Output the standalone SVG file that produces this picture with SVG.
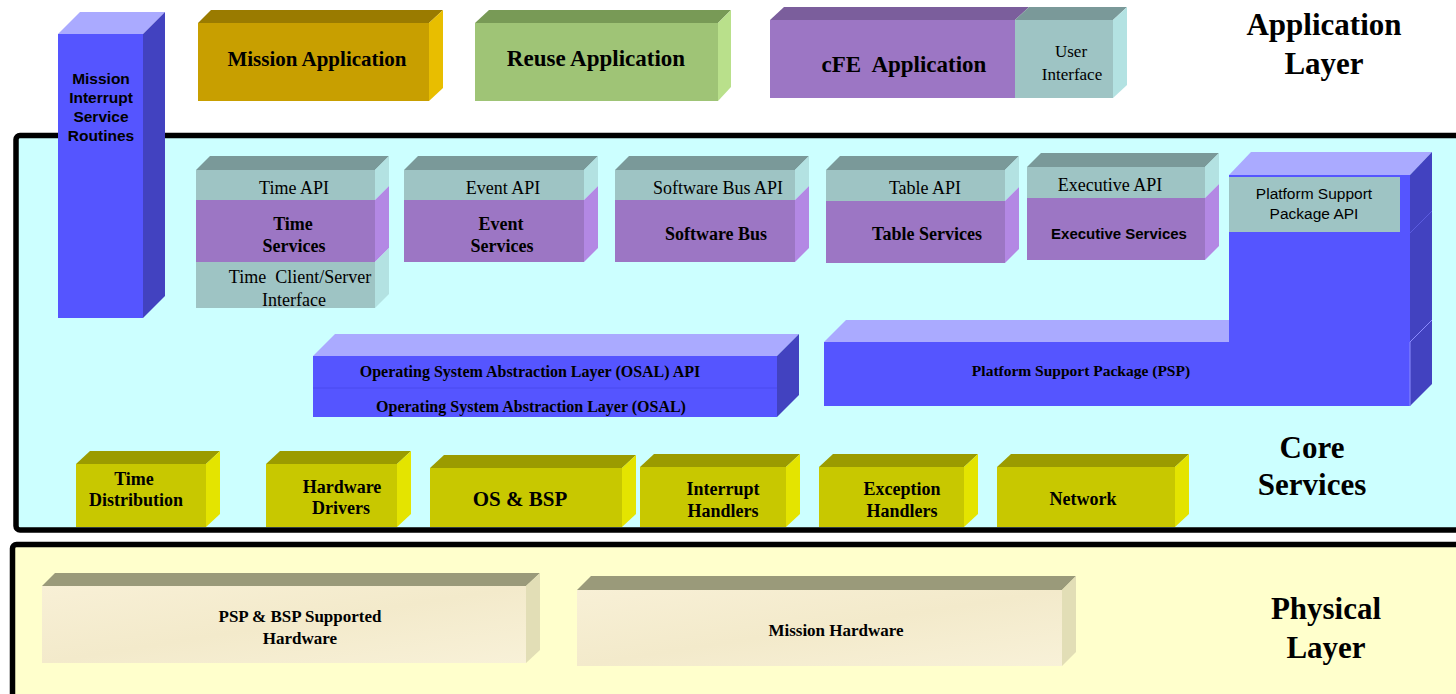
<svg xmlns="http://www.w3.org/2000/svg" width="1456" height="694" viewBox="0 0 1456 694">
<style>
.bf{fill:#5555FF}.bt{fill:#AAAAFF}.bs{fill:#4242C0}
.tf{fill:#9EC4C4}.tt{fill:#7A9999}.ts{fill:#B3E2E2}
.pf{fill:#9C76C4}.pt{fill:#7B5E9C}.ps{fill:#B388E4}
.gf{fill:#C89F00}.gt{fill:#9A7B00}.gs{fill:#E8BE00}
.rf{fill:#9FC476}.rt{fill:#789A56}.rs{fill:#B9E08B}
.yf{fill:#C8C800}.yt{fill:#9B9B00}.ys{fill:#E4E400}
.hf{fill:url(#tex)}.ht{fill:#9A9A7A}.hs{fill:#E2DEB6}
text{fill:#000}
.sb{font-family:"Liberation Serif","Times New Roman",serif;font-weight:bold;text-anchor:middle}
.sn{font-family:"Liberation Serif","Times New Roman",serif;text-anchor:middle}
.ab{font-family:"Liberation Sans",Arial,sans-serif;font-weight:bold;text-anchor:middle}
.an{font-family:"Liberation Sans",Arial,sans-serif;text-anchor:middle}
.s18{font-size:18px}
</style>
<defs>
<linearGradient id="tex" x1="0" y1="0" x2="1" y2="1">
<stop offset="0" stop-color="#F8F0D6"/>
<stop offset="0.5" stop-color="#F3EACB"/>
<stop offset="1" stop-color="#F8F1D8"/>
</linearGradient>
</defs>
<rect x="0" y="0" width="1456" height="694" fill="#FFFFFF"/>

<g id="core-frame">
<rect x="16" y="135.5" width="1460" height="394.5" rx="4" fill="#CCFFFF" stroke="#000" stroke-width="5.5"/>
</g>
<g id="physical-frame">
<rect x="12.5" y="544.5" width="1460" height="200" rx="4" fill="#FFFFCC" stroke="#000" stroke-width="5.5"/>
</g>

<g id="connectors"></g>

<g id="layer-labels">
<text class="sb" x="1324" y="35" font-size="31">Application</text>
<text class="sb" x="1324" y="74" font-size="31">Layer</text>
<text class="sb" x="1312" y="458" font-size="31">Core</text>
<text class="sb" x="1312" y="495" font-size="31">Services</text>
<text class="sb" x="1326" y="619" font-size="31">Physical</text>
<text class="sb" x="1326" y="658" font-size="31">Layer</text>
</g>

<g id="mission-isr">
<rect class="bf" x="58" y="34" width="85" height="284"/>
<polygon class="bt" points="58,34 80,12 165,12 143,34"/>
<polygon class="bs" points="143,34 165,12 165,296 143,318"/>
<text class="ab" x="101" y="84" font-size="15.5">Mission</text>
<text class="ab" x="101" y="103" font-size="15.5">Interrupt</text>
<text class="ab" x="101" y="122" font-size="15.5">Service</text>
<text class="ab" x="101" y="141" font-size="15.5">Routines</text>
</g>

<g id="mission-application">
<rect class="gf" x="198" y="23" width="231" height="78"/>
<polygon class="gt" points="198,23 211,10 443,10 429,23"/>
<polygon class="gs" points="429,23 443,10 443,88 429,101"/>
<text class="sb" x="317" y="66" font-size="21">Mission Application</text>
</g>

<g id="reuse-application">
<rect class="rf" x="475" y="23" width="243" height="78"/>
<polygon class="rt" points="475,23 489,10 731,10 718,23"/>
<polygon class="rs" points="718,23 731,10 731,87 718,101"/>
<text class="sb" x="596" y="66" font-size="23">Reuse Application</text>
</g>

<g id="cfe-application">
<rect class="pf" x="770" y="20" width="245" height="78"/>
<polygon class="pt" points="770,20 784,7 1029,7 1015,20"/>
<text class="sb" x="904" y="72" font-size="23">cFE&#160; Application</text>
</g>

<g id="user-interface">
<rect class="tf" x="1015" y="20" width="98" height="78"/>
<polygon class="tt" points="1015,20 1029,7 1127,7 1113,20"/>
<polygon class="ts" points="1113,20 1127,7 1127,85 1113,98"/>
<text class="sn" x="1071" y="57" font-size="17">User</text>
<text class="sn" x="1072" y="80" font-size="17">Interface</text>
</g>

<g id="time-services">
<rect class="tf" x="196" y="170" width="179" height="30"/>
<polygon class="tt" points="196,170 210,156 389,156 375,170"/>
<polygon class="ts" points="375,170 389,156 389,186 375,200"/>
<rect class="pf" x="196" y="200" width="179" height="62"/>
<polygon class="ps" points="375,200 389,186 389,248 375,262"/>
<rect class="tf" x="196" y="262" width="179" height="46"/>
<polygon class="ts" points="375,262 389,248 389,294 375,308"/>
<text class="sn s18" x="294" y="194">Time API</text>
<text class="sb s18" x="293" y="230">Time</text>
<text class="sb s18" x="294" y="252">Services</text>
<text class="sn s18" x="300" y="283">Time&#160; Client/Server</text>
<text class="sn s18" x="294" y="306">Interface</text>
</g>

<g id="event-services">
<rect class="tf" x="404" y="170" width="180" height="30"/>
<polygon class="tt" points="404,170 418,156 598,156 584,170"/>
<polygon class="ts" points="584,170 598,156 598,186 584,200"/>
<rect class="pf" x="404" y="200" width="180" height="62"/>
<polygon class="ps" points="584,200 598,186 598,248 584,262"/>
<text class="sn s18" x="503" y="194">Event API</text>
<text class="sb s18" x="501" y="230">Event</text>
<text class="sb s18" x="502" y="252">Services</text>
</g>

<g id="software-bus">
<rect class="tf" x="615" y="170" width="180" height="30"/>
<polygon class="tt" points="615,170 629,156 809,156 795,170"/>
<polygon class="ts" points="795,170 809,156 809,186 795,200"/>
<rect class="pf" x="615" y="200" width="180" height="62"/>
<polygon class="ps" points="795,200 809,186 809,248 795,262"/>
<text class="sn s18" x="718" y="194">Software Bus API</text>
<text class="sb s18" x="716" y="240">Software Bus</text>
</g>

<g id="table-services">
<rect class="tf" x="826" y="170" width="179" height="31"/>
<polygon class="tt" points="826,170 840,156 1019,156 1005,170"/>
<polygon class="ts" points="1005,170 1019,156 1019,187 1005,201"/>
<rect class="pf" x="826" y="201" width="179" height="62"/>
<polygon class="ps" points="1005,201 1019,187 1019,249 1005,263"/>
<text class="sn s18" x="925" y="194">Table API</text>
<text class="sb s18" x="927" y="240">Table Services</text>
</g>

<g id="executive-services">
<rect class="tf" x="1027" y="167" width="178" height="31"/>
<polygon class="tt" points="1027,167 1041,153 1219,153 1205,167"/>
<polygon class="ts" points="1205,167 1219,153 1219,184 1205,198"/>
<rect class="pf" x="1027" y="198" width="178" height="62"/>
<polygon class="ps" points="1205,198 1219,184 1219,246 1205,260"/>
<text class="sn s18" x="1110" y="191">Executive API</text>
<text class="ab" x="1119" y="239" font-size="15">Executive Services</text>
</g>

<g id="psp">
<rect class="bf" x="1229" y="175" width="181" height="168"/>
<polygon class="bt" points="1229,175 1251,152 1432,152 1410,175"/>
<polygon class="bs" points="1410,175 1432,152 1432,320 1410,342"/>
<line x1="1410" y1="233" x2="1432" y2="211" stroke="#5C5CE0" stroke-width="1"/>
<rect class="bf" x="824" y="342" width="586" height="64"/>
<polygon class="bt" points="824,342 846,320 1229,320 1229,342"/>
<polygon class="bs" points="1410,342 1432,320 1432,384 1410,406"/>
<line x1="1410" y1="342" x2="1432" y2="320" stroke="#8C8CFF" stroke-width="1"/>
<line x1="1410" y1="342" x2="1410" y2="406" stroke="#8C8CFF" stroke-width="1"/>
<text class="sb" x="1081" y="376" font-size="15.5">Platform Support Package (PSP)</text>
</g>

<g id="psp-api">
<rect class="tf" x="1229" y="177" width="171" height="55"/>
<text class="an" x="1314" y="199" font-size="15.5">Platform Support</text>
<text class="an" x="1314" y="219" font-size="15.5">Package API</text>
</g>

<g id="osal">
<rect class="bf" x="313" y="356" width="464" height="61"/>
<polygon class="bt" points="313,356 335,334 799,334 777,356"/>
<polygon class="bs" points="777,356 799,334 799,395 777,417"/>
<line x1="313" y1="388" x2="777" y2="388" stroke="#4B4BEE" stroke-width="1"/>
<text class="sb" x="530" y="377" font-size="16">Operating System Abstraction Layer (OSAL) API</text>
<text class="sb" x="531" y="412" font-size="16">Operating System Abstraction Layer (OSAL)</text>
</g>

<g id="time-distribution">
<rect class="yf" x="76" y="464" width="130" height="63"/>
<polygon class="yt" points="76,464 90,451 220,451 206,464"/>
<polygon class="ys" points="206,464 220,451 220,514 206,527"/>
<text class="sb s18" x="134" y="485">Time</text>
<text class="sb s18" x="136" y="506">Distribution</text>
</g>

<g id="hardware-drivers">
<rect class="yf" x="266" y="464" width="131" height="63"/>
<polygon class="yt" points="266,464 280,451 411,451 397,464"/>
<polygon class="ys" points="397,464 411,451 411,514 397,527"/>
<text class="sb s18" x="342" y="493">Hardware</text>
<text class="sb s18" x="341" y="514">Drivers</text>
</g>

<g id="os-bsp">
<rect class="yf" x="430" y="468" width="192" height="59"/>
<polygon class="yt" points="430,468 444,455 636,455 622,468"/>
<polygon class="ys" points="622,468 636,455 636,514 622,527"/>
<text class="sb" x="520" y="506" font-size="21">OS &amp; BSP</text>
</g>

<g id="interrupt-handlers">
<rect class="yf" x="640" y="467" width="146" height="60"/>
<polygon class="yt" points="640,467 654,454 800,454 786,467"/>
<polygon class="ys" points="786,467 800,454 800,514 786,527"/>
<text class="sb s18" x="723" y="495">Interrupt</text>
<text class="sb s18" x="723" y="517">Handlers</text>
</g>

<g id="exception-handlers">
<rect class="yf" x="819" y="467" width="145" height="60"/>
<polygon class="yt" points="819,467 833,454 978,454 964,467"/>
<polygon class="ys" points="964,467 978,454 978,514 964,527"/>
<text class="sb s18" x="902" y="495">Exception</text>
<text class="sb s18" x="902" y="517">Handlers</text>
</g>

<g id="network">
<rect class="yf" x="997" y="467" width="178" height="60"/>
<polygon class="yt" points="997,467 1011,454 1189,454 1175,467"/>
<polygon class="ys" points="1175,467 1189,454 1189,514 1175,527"/>
<text class="sb s18" x="1083" y="505">Network</text>
</g>

<g id="psp-bsp-hardware">
<rect class="hf" x="42" y="586" width="484" height="77"/>
<polygon class="ht" points="42,586 55,573 540,573 526,586"/>
<polygon class="hs" points="526,586 540,573 540,650 526,663"/>
<text class="sb" x="300" y="622" font-size="17">PSP &amp; BSP Supported</text>
<text class="sb" x="300" y="644" font-size="17">Hardware</text>
</g>

<g id="mission-hardware">
<rect class="hf" x="577" y="590" width="485" height="76"/>
<polygon class="ht" points="577,590 591,576 1076,576 1062,590"/>
<polygon class="hs" points="1062,590 1076,576 1076,652 1062,666"/>
<text class="sb" x="836" y="636" font-size="17">Mission Hardware</text>
</g>
</svg>
